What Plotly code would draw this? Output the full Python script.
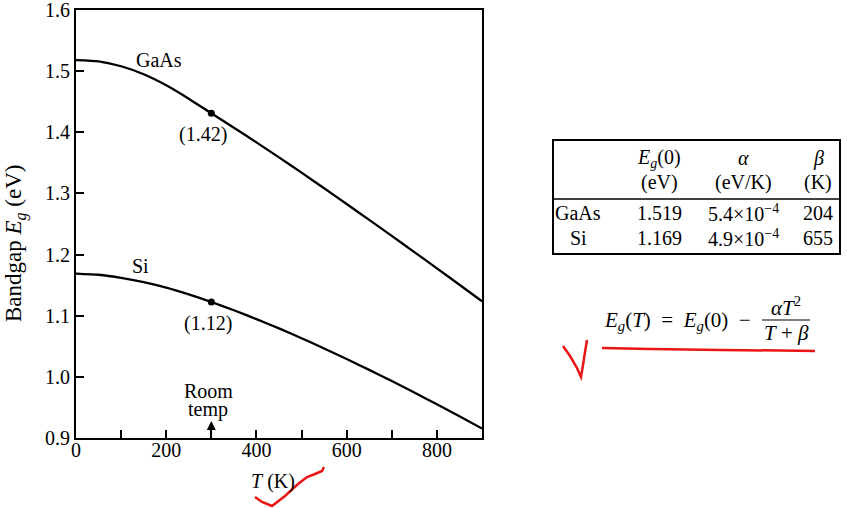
import plotly.graph_objects as go

# ---------------- data ----------------
T_K = [0, 50, 100, 150, 200, 250, 300, 350, 400, 450,
       500, 550, 600, 650, 700, 750, 800, 850, 900]
Eg_GaAs = [1.518, 1.516, 1.508, 1.495, 1.477, 1.455, 1.431, 1.4075, 1.3835, 1.359,
           1.334, 1.3085, 1.2827, 1.2567, 1.2305, 1.2041, 1.1775, 1.1507, 1.1237]
Eg_Si = [1.169, 1.167, 1.162, 1.155, 1.146, 1.135, 1.1225, 1.109, 1.0945, 1.0792,
         1.0632, 1.0465, 1.0292, 1.0114, 0.9931, 0.9743, 0.9551, 0.9355, 0.9155]

curve_names = ["GaAs", "Si"]
room_T = 300
room_Eg = [1.431, 1.1225]
room_labels = ["(1.42)", "(1.12)"]

x_tickvals = [0, 100, 200, 300, 400, 500, 600, 700, 800, 900]
x_ticktext = ["0", "", "200", "", "400", "", "600", "", "800", ""]
y_tickvals = [0.9, 1.0, 1.1, 1.2, 1.3, 1.4, 1.5, 1.6]
y_ticktext = ["0.9", "1.0", "1.1", "1.2", "1.3", "1.4", "1.5", "1.6"]

table_header1 = ["", "<i>E</i><sub><i>g</i></sub>(0)", "<i>α</i>", "<i>β</i>"]
table_header2 = ["", "(eV)", "(eV/K)", "(K)"]
table_materials = ["GaAs", "Si"]
table_Eg0 = ["1.519", "1.169"]
table_alpha = ["5.4×10<sup>−4</sup>", "4.9×10<sup>−4</sup>"]
table_beta = ["204", "655"]

# ---------------- geometry helpers ----------------
W, H = 847, 508
L, R, TOP, BOT = 76, 482, 10, 438
PW, PH = R - L, BOT - TOP


def px(x):
    return (x - L) / PW


def py(y):
    return (BOT - y) / PH


def path(points):
    s = "M {:.4f},{:.4f}".format(px(points[0][0]), py(points[0][1]))
    for (a, b) in points[1:]:
        s += " L {:.4f},{:.4f}".format(px(a), py(b))
    return s


FONT = "Liberation Serif, Times New Roman, DejaVu Serif, serif"
FS = 20
NB = "\u00a0"

fig = go.Figure()
for name, vals in zip(curve_names, [Eg_GaAs, Eg_Si]):
    fig.add_trace(go.Scatter(x=T_K, y=vals, mode="lines", name=name,
                             line=dict(color="black", width=2.3, shape="spline", smoothing=0.5),
                             showlegend=False, hoverinfo="skip"))
fig.add_trace(go.Scatter(x=[room_T] * len(room_Eg), y=room_Eg, mode="markers",
                         marker=dict(color="black", size=7), showlegend=False,
                         hoverinfo="skip"))

ann = []


def txt(x, y, text, ref="paper", **kw):
    d = dict(x=x, y=y, xref=ref, yref=ref, text=text, showarrow=False,
             xanchor="center", yanchor="middle", font=dict(size=FS))
    d.update(kw)
    ann.append(d)


# curve labels and room-temperature values (data coordinates)
txt(184, 1.5175, curve_names[0], ref="x")
txt(142, 1.182, curve_names[1], ref="x")
txt(281, 1.3956, room_labels[0], ref="x")
txt(292, 1.088, room_labels[1], ref="x")
for a in ann:
    a["xref"] = "x"
    a["yref"] = "y"
# room temp
txt(px(208), py(391), "Room")
txt(px(208), py(409), "temp")
ann.append(dict(x=room_T, y=0.9 + 17 / (PH / 0.7), xref="x", yref="y",
                ax=room_T, ay=0.9, axref="x", ayref="y", text=" ",
                font=dict(size=1), showarrow=True, arrowhead=2, arrowsize=1.2,
                arrowwidth=1.5, arrowcolor="black"))
# axis titles
txt(px(273), py(481), "<i>T</i> (K)")
txt(px(15), py(243), "Bandgap <i>E</i><sub><i>g</i></sub> (eV)", textangle=-90,
    font=dict(size=23))

# table
col_x = [578, 659, 743, 818]
for cx, t in zip(col_x, table_header1):
    if t:
        txt(px(cx), py(158), t)
for cx, t in zip(col_x, table_header2):
    if t:
        txt(px(cx), py(183), t)
for i, ry in enumerate([213, 238]):
    row = [table_materials[i], table_Eg0[i], table_alpha[i], table_beta[i]]
    for cx, t in zip(col_x, row):
        txt(px(cx), py(ry), t)

# formula
txt(px(602), py(321),
    "<i>E</i><sub><i>g</i></sub>(<i>T</i>)" + NB * 2 + "=" + NB * 2 +
    "<i>E</i><sub><i>g</i></sub>(0)" + NB * 2 + "−",
    xanchor="left", font=dict(size=21))
txt(px(786), py(306), "<i>αT</i><sup>2</sup>", font=dict(size=21))
txt(px(786), py(333), "<i>T</i> + <i>β</i>", font=dict(size=21))

shapes = []
shapes.append(dict(type="rect", xref="paper", yref="paper", x0=px(553), x1=px(840),
                   y0=py(140), y1=py(254), line=dict(color="black", width=2)))
shapes.append(dict(type="line", xref="paper", yref="paper", x0=px(553), x1=px(840),
                   y0=py(199), y1=py(199), line=dict(color="black", width=1.5)))
shapes.append(dict(type="line", xref="paper", yref="paper", x0=px(762), x1=px(810),
                   y0=py(320), y1=py(320), line=dict(color="black", width=1)))
RED = "rgb(235,20,20)"
shapes.append(dict(type="path", xref="paper", yref="paper",
                   path=path([(255, 497), (262, 502), (272, 506), (285, 496),
                              (298, 484), (307, 477), (315, 474), (322, 471), (324, 467)]),
                   line=dict(color=RED, width=2.5)))
shapes.append(dict(type="path", xref="paper", yref="paper",
                   path=path([(563, 346), (570, 356), (577, 368), (581, 377),
                              (583, 365), (585, 352), (587, 340)]),
                   line=dict(color=RED, width=2.5)))
shapes.append(dict(type="path", xref="paper", yref="paper",
                   path=path([(602, 348), (650, 349), (720, 350), (780, 350.5), (815, 351)]),
                   line=dict(color=RED, width=2.5)))

fig.update_layout(
    width=W, height=H, autosize=False,
    margin=dict(l=L, r=W - R, t=TOP, b=H - BOT, pad=0),
    paper_bgcolor="white", plot_bgcolor="white",
    font=dict(family=FONT, size=FS, color="black"),
    annotations=ann, shapes=shapes,
    xaxis=dict(range=[0, 900], tickvals=x_tickvals, ticktext=x_ticktext,
               ticks="inside", ticklen=8, tickwidth=1.5, tickcolor="black",
               showline=True, linecolor="black", linewidth=2, mirror=True,
               showgrid=False, zeroline=False, tickfont=dict(size=FS),
               automargin=False, ticklabeloverflow="allow", ticklabelstandoff=-7),
    yaxis=dict(range=[0.9, 1.6], tickvals=y_tickvals, ticktext=y_ticktext,
               ticks="inside", ticklen=8, tickwidth=1.5, tickcolor="black",
               showline=True, linecolor="black", linewidth=2, mirror=True,
               showgrid=False, zeroline=False, tickfont=dict(size=FS),
               automargin=False, ticklabeloverflow="allow"),
)

fig.write_html("out.html")
